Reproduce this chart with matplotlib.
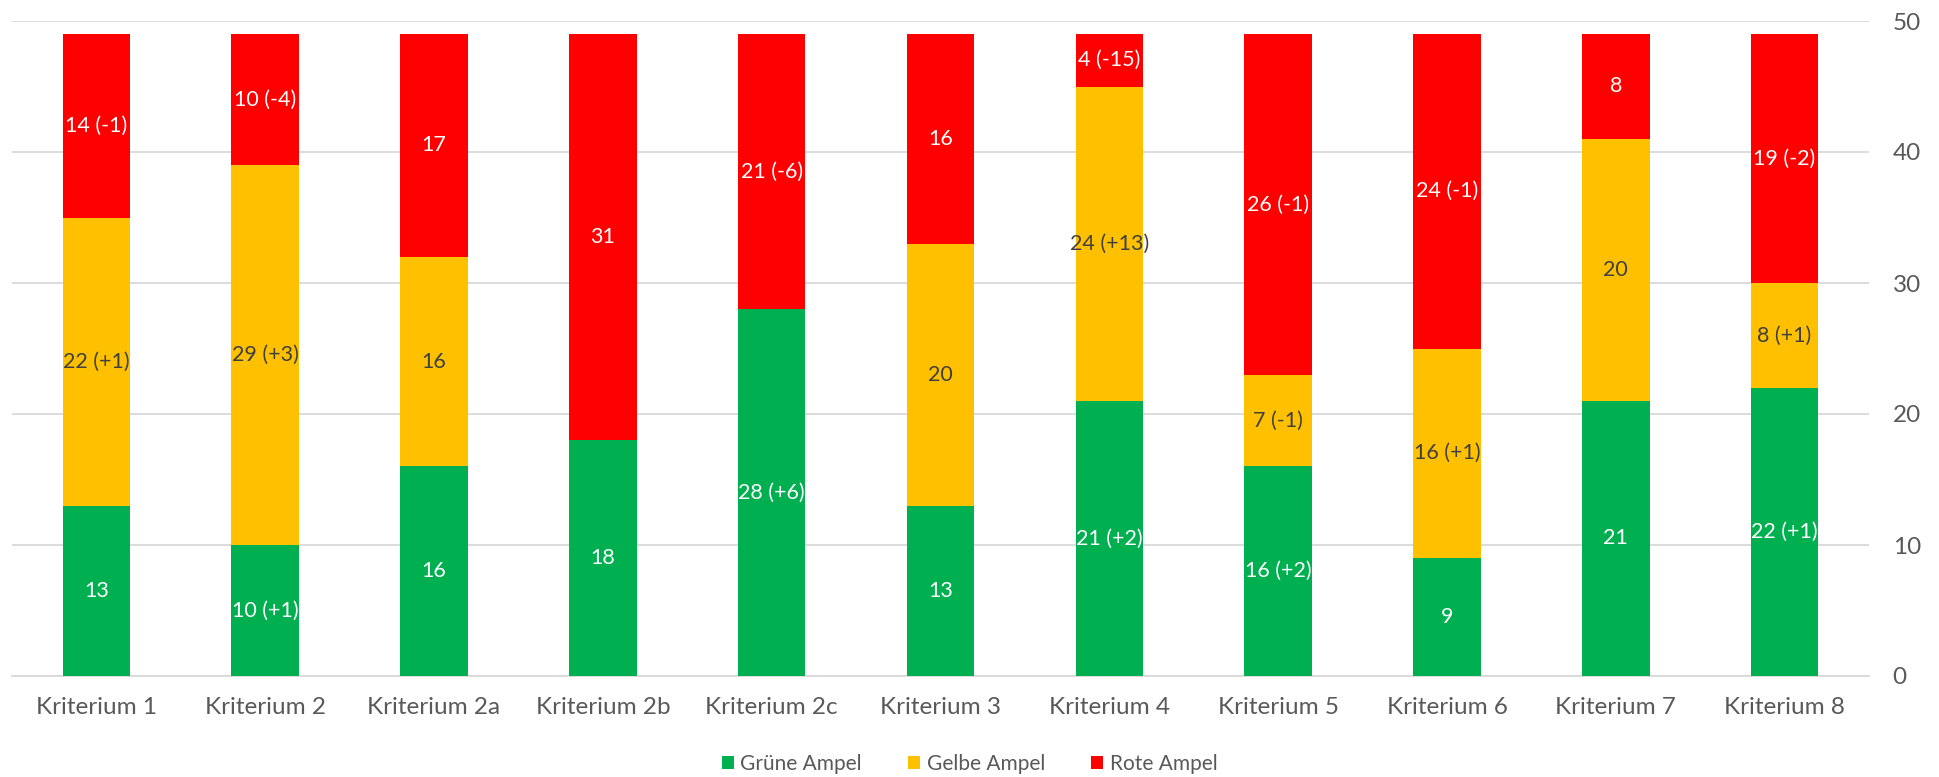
import matplotlib.pyplot as plt
import numpy as np

# Daten
kategorien = ['Kriterium 1', 'Kriterium 2', 'Kriterium 2a', 'Kriterium 2b', 'Kriterium 2c',
              'Kriterium 3', 'Kriterium 4', 'Kriterium 5', 'Kriterium 6', 'Kriterium 7', 'Kriterium 8']
gruen = [13, 10, 16, 18, 28, 13, 21, 16, 9, 21, 22]
gelb = [22, 29, 16, 0, 0, 20, 24, 7, 16, 20, 8]
rot = [14, 10, 17, 31, 21, 16, 4, 26, 24, 8, 19]
gruen_txt = ['13', '10 (+1)', '16', '18', '28 (+6)', '13', '21 (+2)', '16 (+2)', '9', '21', '22 (+1)']
gelb_txt = ['22 (+1)', '29 (+3)', '16', '', '', '20', '24 (+13)', '7 (-1)', '16 (+1)', '20', '8 (+1)']
rot_txt = ['14 (-1)', '10 (-4)', '17', '31', '21 (-6)', '16', '4 (-15)', '26 (-1)', '24 (-1)', '8', '19 (-2)']

plt.rcParams['font.family'] = ['Lato', 'DejaVu Sans']

fig = plt.figure(figsize=(19.39, 7.77), dpi=100)
ax = fig.add_axes([12/1939, 1 - 676/777, (1869-12)/1939, (676-21)/777])

x = np.arange(len(kategorien))
b = 0.40
unten_gelb = np.array(gruen)
unten_rot = unten_gelb + np.array(gelb)

serien = [
    (gruen, np.zeros(len(x)), '#00B050', 'Grüne Ampel', gruen_txt, 'white'),
    (gelb, unten_gelb, '#FFC000', 'Gelbe Ampel', gelb_txt, '#404040'),
    (rot, unten_rot, '#FF0000', 'Rote Ampel', rot_txt, 'white'),
]
for werte, unten, farbe, name, txt, tfarbe in serien:
    bars = ax.bar(x, werte, b, bottom=unten, color=farbe, label=name, zorder=3)
    for i, rect in enumerate(bars):
        if txt[i]:
            ax.text(rect.get_x() + rect.get_width()/2, unten[i] + werte[i]/2, txt[i],
                    ha='center', va='center', color=tfarbe, fontsize=15.5, zorder=4)

ax.set_xlim(-0.5, len(x) - 0.5)
ax.set_ylim(0, 50)
ax.set_yticks(range(0, 51, 10))
ax.yaxis.tick_right()
ax.grid(axis='y', color='#D9D9D9', linewidth=1.3, zorder=0)
for s in ['top', 'left', 'right']:
    ax.spines[s].set_visible(False)
ax.spines['bottom'].set_color('#D9D9D9')
ax.spines['bottom'].set_linewidth(1.3)
ax.tick_params(axis='both', length=0, labelsize=17.5, colors='#595959')
ax.tick_params(axis='y', pad=17)
ax.tick_params(axis='x', pad=15)
ax.set_xticks(x)
ax.set_xticklabels(kategorien)

leg = fig.legend(loc='center', bbox_to_anchor=(0.5, 1 - 764/777), ncol=3, frameon=False,
                 fontsize=15, handlelength=0.6, handleheight=0.6, columnspacing=2.2, handletextpad=0.3)
for t in leg.get_texts():
    t.set_color('#595959')

fig.savefig('out.png', dpi=100)
